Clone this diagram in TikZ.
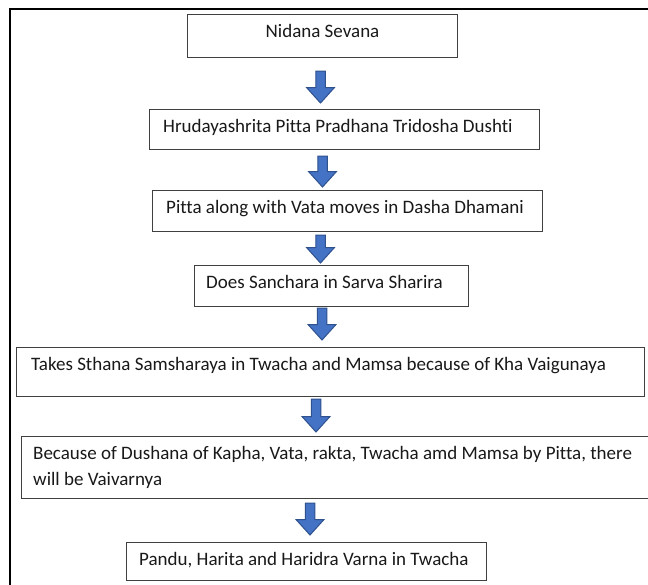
\documentclass[tikz,border=0pt]{standalone}
\usepackage{fontspec}
\setmainfont{Carlito}[Ligatures={NoCommon,NoContextual},RawFeature={-liga;-clig;-dlig}]
\usetikzlibrary{calc}
\definecolor{arrowfill}{HTML}{4472C4}
\definecolor{arrowline}{HTML}{2F528F}
\definecolor{boxline}{HTML}{404040}
\newcommand\blockarr[2]{%
  \path[blockarrow] let \p1=(#1), \p2=(#2) in
    (\x1-4.75pt,\y1) -- (\x1+4.75pt,\y1) -- (\x1+4.75pt,\y2+15.5pt) --
    (\x1+14pt,\y2+15.5pt) -- (\x1,\y2) -- (\x1-14pt,\y2+15.5pt) --
    (\x1-4.75pt,\y2+15.5pt) -- cycle;}
\begin{document}
\begin{tikzpicture}[x=1pt,y=-1pt,
  box/.style={draw=boxline, line width=1pt, rectangle, inner sep=0pt, anchor=north west},
  txt/.style={anchor=base west, inner sep=0pt, font=\fontsize{19}{26}\selectfont, text=black!90},
  blockarrow/.style={fill=arrowfill, draw=arrowline, line width=1pt, line join=miter}]
\useasboundingbox (0,0) rectangle (648,584);
\fill[white] (0,0) rectangle (648,584);
% frame
\draw[line width=2.5pt] (10,600) -- (10,9) -- (660,9);
% boxes
\node[box, minimum width=270pt, minimum height=43pt] (b1) at (187,14) {};
\node[box, minimum width=390pt, minimum height=40pt] (b2) at (149,109) {};
\node[box, minimum width=390pt, minimum height=41pt] (b3) at (152,190) {};
\node[box, minimum width=274pt, minimum height=41pt] (b4) at (194,265) {};
\node[box, minimum width=628pt, minimum height=49pt] (b5) at (16,347) {};
\node[box, minimum width=640pt, minimum height=62pt] (b6) at (21,436) {};
\node[box, minimum width=360pt, minimum height=38pt] (b7) at (126,542) {};
% texts
\node[txt, anchor=base] (t1) at ($(b1.north)+(0,23)$) {Nidana Sevana};
\node[txt] (t2) at ($(b2.north west)+(14,23.5)$) {Hrudayashrita Pitta Pradhana Tridosha Dushti};
\node[txt] (t3) at ($(b3.north west)+(14,23.5)$) {Pitta along with Vata moves in Dasha Dhamani};
\node[txt] (t4) at ($(b4.north west)+(12,23.5)$) {Does Sanchara in Sarva Sharira};
\node[txt] (t5) at ($(b5.north west)+(15,23.5)$) {Takes Sthana Samsharaya in Twacha and Mamsa because of Kha Vaigunaya};
\node[txt] (t6) at ($(b6.north west)+(12,23.5)$) {Because of Dushana of Kapha, Vata, rakta, Twacha amd Mamsa by Pitta, there};
\node[txt] (t6b) at ($(t6.base west)+(0,26)$) {will be Vaivarnya};
\node[txt] (t7) at ($(b7.north west)+(13,23.5)$) {Pandu, Harita and Haridra Varna in Twacha};
% arrows
\coordinate (a1s) at (320.5,71);  \coordinate (a1e) at (320.5,103);
\coordinate (a2s) at (322.5,156); \coordinate (a2e) at (322.5,187);
\coordinate (a3s) at (320.5,235); \coordinate (a3e) at (320.5,263);
\coordinate (a4s) at (322,308);   \coordinate (a4e) at (322,340);
\coordinate (a5s) at (316,399);   \coordinate (a5e) at (316,432);
\coordinate (a6s) at (310,503);   \coordinate (a6e) at (310,535);
\blockarr{a1s}{a1e}
\blockarr{a2s}{a2e}
\blockarr{a3s}{a3e}
\blockarr{a4s}{a4e}
\blockarr{a5s}{a5e}
\blockarr{a6s}{a6e}
\end{tikzpicture}
\end{document}
